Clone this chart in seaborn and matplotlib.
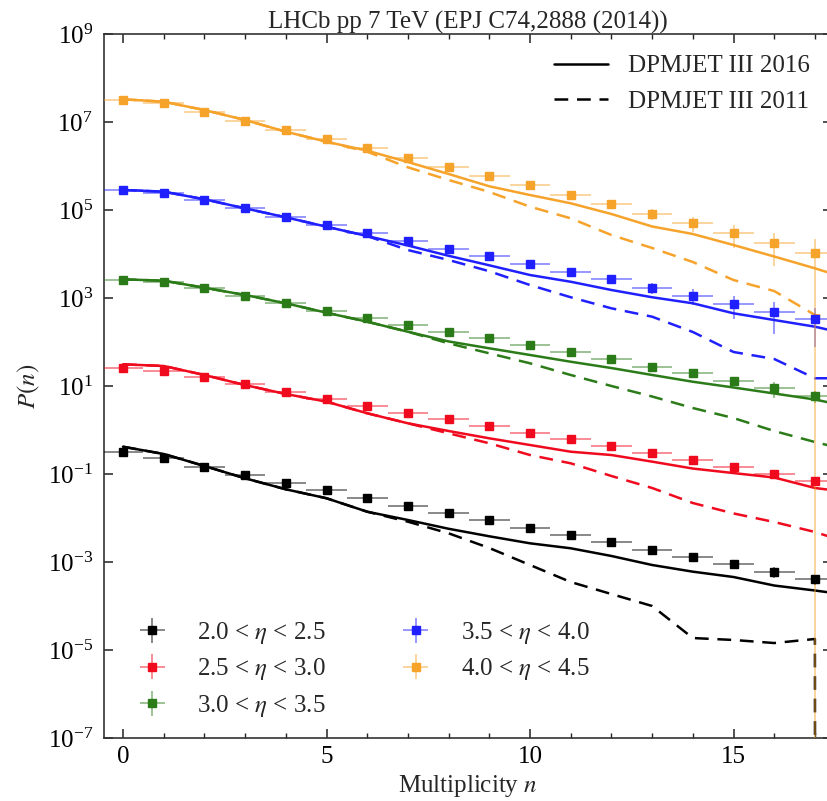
import numpy as np
import pandas as pd
import matplotlib
matplotlib.use("Agg")
import matplotlib.pyplot as plt
import seaborn as sns
from matplotlib.ticker import FixedLocator, MultipleLocator, LogFormatterSciNotation, NullLocator
from matplotlib.lines import Line2D
from matplotlib.colors import to_rgba

# ---------------- data ----------------
n_data = list(range(18))
n_model = list(range(19))

series_labels = [r"2.0 < $\eta$ < 2.5", r"2.5 < $\eta$ < 3.0", r"3.0 < $\eta$ < 3.5",
                 r"3.5 < $\eta$ < 4.0", r"4.0 < $\eta$ < 4.5"]
series_colors = ["#000000", "#f00a1e", "#2b7b18", "#2020ff", "#f6a32c"]
model_labels = ["DPMJET III 2016", "DPMJET III 2011"]

data_20_25 = [0.321, 0.234, 0.147, 0.0949, 0.0634, 0.0427, 0.0281, 0.0191, 0.0130, 8.87e-3,
              5.93e-3, 4.05e-3, 2.89e-3, 1.87e-3, 1.32e-3, 9.02e-4, 6.03e-4, 4.05e-4]
err_20_25 = [0.01, 0.007, 0.004, 0.0025, 0.0016, 0.0011, 7e-4, 5e-4, 3.5e-4, 2.5e-4,
             2e-4, 1.6e-4, 1.4e-4, 1.8e-4, 2.5e-4, 2e-4, 1.7e-4, 1e-4]

data_25_30 = [26.1, 22.3, 16.3, 10.9, 7.19, 4.99, 3.51, 2.47, 1.75, 1.25,
              0.869, 0.615, 0.433, 0.295, 0.208, 0.147, 0.100, 0.0705]
err_25_30 = [0.6, 0.5, 0.35, 0.22, 0.14, 0.1, 0.07, 0.05, 0.035, 0.03,
             0.025, 0.02, 0.015, 0.012, 0.01, 0.012, 0.012, 0.008]

data_30_35 = [2560, 2310, 1660, 1110, 758, 514, 351, 243, 171, 121,
              85.5, 58.3, 40.5, 27.5, 19.5, 13.2, 8.87, 5.93]
err_30_35 = [40, 35, 25, 17, 12, 8, 6, 4.5, 3.5, 2.8,
             2.2, 2, 2, 3, 3, 3, 3.5, 1.8]

data_35_40 = [2.85e5, 2.47e5, 1.69e5, 1.09e5, 7.05e4, 4.56e4, 3.05e4, 1.97e4, 1.32e4, 8870,
              6030, 3960, 2660, 1710, 1130, 731, 489, 328]
err_35_40 = [8e3, 7e3, 5e3, 3.3e3, 2.2e3, 1.4e3, 1e3, 700, 550, 450,
             400, 500, 450, 450, 440, 400, 340, 250]

data_40_45 = [3.16e7, 2.66e7, 1.71e7, 1.07e7, 6.58e6, 4.04e6, 2.52e6, 1.55e6, 9.49e5, 6.02e5,
              3.64e5, 2.19e5, 1.37e5, 8.11e4, 4.99e4, 2.95e4, 1.75e4, 1.04e4]
err_40_45 = [6e5, 5e5, 3.4e5, 2.1e5, 1.3e5, 8e4, 6e4, 4e4, 3e4, 2.5e4,
             2.5e4, 2e4, 1.8e4, 2.2e4, 1.9e4, 1.6e4, 1.22e4, 1.1e4]

dpm2016_20_25 = [0.417, 0.285, 0.152, 0.0798, 0.0449, 0.0281, 0.0139, 9.01e-3, 5.69e-3, 3.84e-3,
                 2.66e-3, 2.05e-3, 1.37e-3, 8.55e-4, 6.03e-4, 4.56e-4, 2.92e-4, 2.25e-4, 1.69e-4]
dpm2011_20_25 = [0.417, 0.285, 0.152, 0.0798, 0.0449, 0.0281, 0.0139, 8.24e-3, 4.49e-3, 2.08e-3,
                 8.55e-4, 3.51e-4, 1.87e-4, 1.0e-4, 1.87e-5, 1.69e-5, 1.44e-5, 1.78e-5, 0.0]

dpm2016_25_30 = [31.1, 28.5, 17.8, 10.5, 6.58, 4.40, 2.40, 1.42, 0.949, 0.647,
                 0.456, 0.321, 0.270, 0.191, 0.133, 0.105, 0.0832, 0.0481, 0.037]
dpm2011_25_30 = [31.1, 28.5, 17.8, 10.5, 6.58, 4.40, 2.40, 1.42, 0.841, 0.499,
                 0.270, 0.175, 0.0901, 0.0481, 0.0219, 0.0127, 8.11e-3, 4.81e-3, 2.43e-3]

dpm2016_30_35 = [2660, 2470, 1710, 1170, 758, 463, 289, 171, 103, 71.9,
                 50.7, 35.6, 25.6, 17.8, 12.5, 9.25, 6.76, 4.93, 3.16]
dpm2011_30_35 = [2660, 2470, 1710, 1170, 758, 463, 289, 171, 93.3, 55.3,
                 32.8, 17.8, 10.0, 5.77, 3.16, 1.87, 0.949, 0.533, 0.316]

dpm2016_35_40 = [2.85e5, 2.61e5, 1.75e5, 1.09e5, 6.82e4, 4.17e4, 2.56e4, 1.56e4, 9100, 5530,
                 3330, 2340, 1520, 1040, 758, 449, 316, 223, 137]
dpm2011_35_40 = [2.85e5, 2.61e5, 1.75e5, 1.09e5, 6.82e4, 4.17e4, 2.56e4, 1.23e4, 7310, 4060,
                 1970, 1040, 583, 376, 169, 59.3, 41.1, 15.0, 15.0]

dpm2016_40_45 = [3.28e7, 2.89e7, 1.87e7, 1.11e7, 6.02e6, 3.56e6, 2.23e6, 1.23e6, 6.58e5, 3.46e5,
                 2.19e5, 1.42e5, 8.11e4, 4.22e4, 2.85e4, 1.60e4, 8770, 4730, 2430]
dpm2011_40_45 = [3.28e7, 2.89e7, 1.87e7, 1.11e7, 6.02e6, 3.56e6, 2.11e6, 9.33e5, 4.81e5, 2.57e5,
                 1.19e5, 6.47e4, 2.70e4, 1.37e4, 6580, 2560, 1440, 411, 316]

data_vals = [data_20_25, data_25_30, data_30_35, data_35_40, data_40_45]
data_errs = [err_20_25, err_25_30, err_30_35, err_35_40, err_40_45]
model_2016 = [dpm2016_20_25, dpm2016_25_30, dpm2016_30_35, dpm2016_35_40, dpm2016_40_45]
model_2011 = [dpm2011_20_25, dpm2011_25_30, dpm2011_30_35, dpm2011_35_40, dpm2011_40_45]

# ---------------- style ----------------
sns.set_style("ticks")
plt.rcParams["font.family"] = ["Liberation Serif", "DejaVu Serif"]
plt.rcParams["mathtext.fontset"] = "stix"
FS = 18
LW = 1.8

fig = plt.figure(figsize=(8.27, 8.01), dpi=100)
ax = fig.add_axes([104 / 827, 1 - 738 / 801, (832 - 104) / 827, (738 - 34) / 801])
ax.set_yscale("log")
ax.set_xlim(-0.467, 17.42)
ax.set_ylim(1e-7, 1e9)

# model lines via seaborn
rows = []
for lab, m16, m11 in zip(series_labels, model_2016, model_2011):
    for n, v in zip(n_model, m16):
        rows.append({"n": n, "P": v, "series": lab, "model": model_labels[0]})
    for n, v in zip(n_model, m11):
        rows.append({"n": n, "P": v, "series": lab, "model": model_labels[1]})
df_model = pd.DataFrame(rows)

sns.lineplot(data=df_model, x="n", y="P", hue="series", style="model",
             palette=dict(zip(series_labels, series_colors)),
             hue_order=series_labels, style_order=model_labels,
             dashes={model_labels[0]: "", model_labels[1]: (5.5, 3.5)},
             estimator=None, sort=True, legend=False, linewidth=LW, ax=ax, zorder=2)

# data points with error bars
containers = []
for lab, c, vals, errs in zip(series_labels, series_colors, data_vals, data_errs):
    cont = ax.errorbar(n_data, vals, xerr=0.5, yerr=errs, fmt="s", ms=5.5,
                       color=c, mec=c, mfc=c, ecolor=to_rgba(c, 0.5),
                       elinewidth=1.3, capsize=0, zorder=3, label=lab)
    containers.append(cont)

# axes / ticks
ax.xaxis.set_major_locator(MultipleLocator(5))
ax.xaxis.set_minor_locator(MultipleLocator(1))
ax.yaxis.set_major_locator(FixedLocator([10.0 ** k for k in range(-7, 10, 2)]))
ax.yaxis.set_minor_locator(NullLocator())
ax.yaxis.set_major_formatter(LogFormatterSciNotation())
ax.tick_params(which="both", direction="in", top=True, right=True, colors="#222222",
               labelcolor="black", labelsize=FS)
ax.tick_params(which="major", length=6.5, width=1.1)
ax.tick_params(which="minor", length=3.5, width=1.0)
ax.tick_params(axis="x", pad=6)
ax.tick_params(axis="y", pad=8)
for s in ax.spines.values():
    s.set_linewidth(1.2)
    s.set_color("#333333")

ax.set_xlabel(r"Multiplicity $n$", fontsize=FS)
ax.set_ylabel(r"$P(n)$", fontsize=FS)
ax.xaxis.set_label_coords(0.5, -0.05)
ax.yaxis.set_label_coords(-0.085, 0.5)
ax.set_title("LHCb pp 7 TeV (EPJ C74,2888 (2014))", fontsize=FS, pad=3)

# legends
model_handles = [Line2D([], [], color="black", lw=LW, ls="-"),
                 Line2D([], [], color="black", lw=LW, ls=(0, (5.5, 3.5)))]
leg1 = ax.legend(model_handles, model_labels, loc="upper left",
                 bbox_to_anchor=(554 / 827, 1 - 55 / 801), bbox_transform=fig.transFigure,
                 frameon=False, fontsize=FS, handlelength=2.15, handletextpad=0.8,
                 borderpad=0, borderaxespad=0, labelspacing=0.5)
ax.add_artist(leg1)

leg2 = ax.legend(containers, series_labels, ncol=2, loc="upper left",
                 bbox_to_anchor=(137 / 827, 1 - 620 / 801), bbox_transform=fig.transFigure,
                 frameon=False, fontsize=FS, handlelength=1.2, handletextpad=1.2,
                 columnspacing=3.0, borderpad=0, borderaxespad=0, labelspacing=0.42)

fig.savefig("out.png", dpi=100)
